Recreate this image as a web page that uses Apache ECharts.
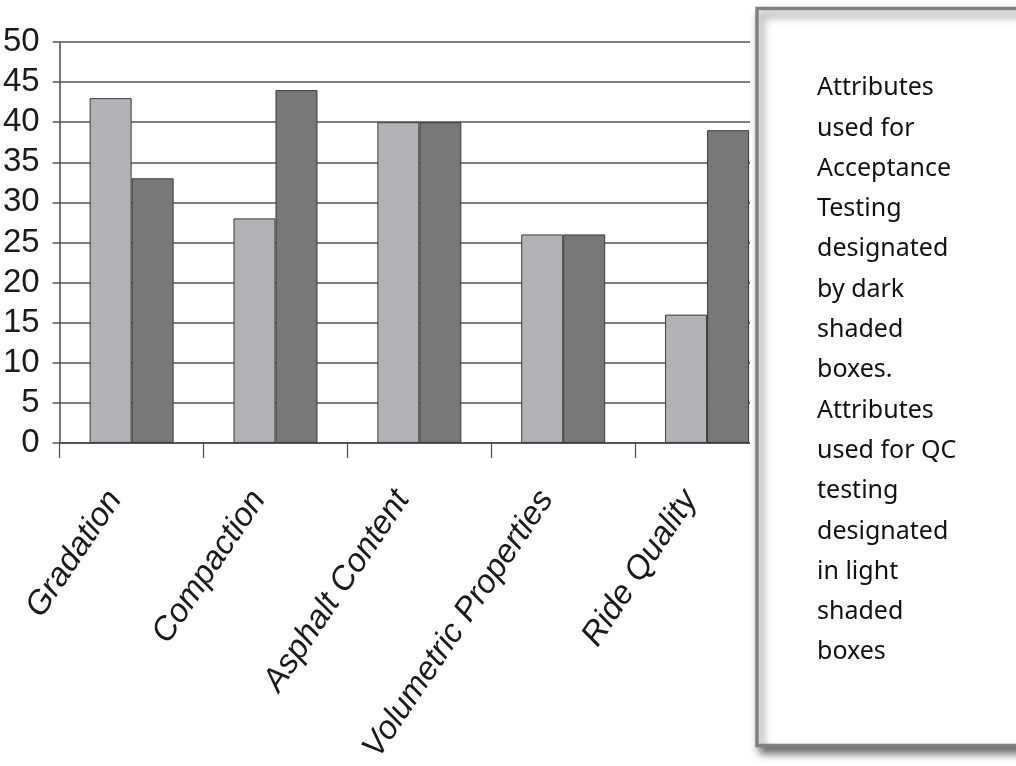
<!DOCTYPE html>
<html>
<head>
<meta charset="utf-8">
<style>
  html, body { margin: 0; padding: 0; background: #ffffff; }
  #chart { width: 1016px; height: 766px; }
</style>
<script src="https://cdn.jsdelivr.net/npm/echarts@6/dist/echarts.min.js"></script>
</head>
<body>
<div id="chart"></div>
<script>
// Quality attributes and how often each is used for QC and for acceptance testing
const categories = ['Gradation', 'Compaction', 'Asphalt Content', 'Volumetric Properties', 'Ride Quality'];
const qcValues = [43, 28, 40, 26, 16];          // light shaded boxes
const acceptanceValues = [33, 44, 40, 26, 39];  // dark shaded boxes
const yTicks = { min: 0, max: 50, interval: 5 };

const noteLines = [
  'Attributes', 'used for', 'Acceptance', 'Testing', 'designated', 'by dark',
  'shaded', 'boxes.', 'Attributes', 'used for QC', 'testing', 'designated',
  'in light', 'shaded', 'boxes'
];

const chart = echarts.init(document.getElementById('chart'), null, { renderer: 'canvas' });

const barBorder = { borderColor: '#3a3a3a', borderWidth: 1 };

chart.setOption({
  animation: false,
  backgroundColor: '#ffffff',
  grid: { left: 59, right: 237, top: 42, bottom: 322, containLabel: false },
  xAxis: {
    type: 'category',
    data: categories,
    boundaryGap: true,
    axisLine: { show: true, lineStyle: { color: '#4a4a4a', width: 1.5 } },
    axisTick: { show: true, length: 15, lineStyle: { color: '#4a4a4a', width: 1.2 } },
    axisLabel: {
      rotate: 56,
      margin: 26,
      interval: 0,
      padding: [0, 30, 0, 0],
      color: '#1a1a1a',
      fontFamily: "'Liberation Sans', Arial, sans-serif",
      fontStyle: 'italic',
      fontSize: 33
    }
  },
  yAxis: {
    type: 'value',
    min: yTicks.min,
    max: yTicks.max,
    interval: yTicks.interval,
    axisLine: { show: true, lineStyle: { color: '#4a4a4a', width: 1.5 } },
    axisTick: { show: true, inside: false, length: 7, lineStyle: { color: '#555555', width: 1.5 } },
    splitLine: { show: true, lineStyle: { color: '#555555', width: 1.5 } },
    axisLabel: {
      margin: 20,
      color: '#1a1a1a',
      fontFamily: "'Liberation Sans', Arial, sans-serif",
      fontSize: 33
    }
  },
  series: [
    {
      name: 'QC',
      type: 'bar',
      data: qcValues,
      barWidth: 42,
      barGap: '0%',
      itemStyle: Object.assign({ color: '#b1b2b5' }, barBorder)
    },
    {
      name: 'Acceptance',
      type: 'bar',
      data: acceptanceValues,
      barWidth: 42,
      barGap: '0%',
      itemStyle: Object.assign({ color: '#77787a' }, barBorder)
    }
  ],
  graphic: [
    // white margin between the plot and the note box
    {
      type: 'rect',
      z: 100,
      shape: { x: 750, y: 0, width: 300, height: 766 },
      style: { fill: '#ffffff' },
      silent: true
    },
    // note box with drop shadow
    {
      type: 'rect',
      z: 101,
      shape: { x: 757, y: 8.5, width: 300, height: 737 },
      style: {
        fill: '#ffffff',
        stroke: '#808080',
        lineWidth: 3.5,
        shadowBlur: 8,
        shadowOffsetX: 4,
        shadowOffsetY: 6,
        shadowColor: 'rgba(0,0,0,0.55)'
      },
      silent: true
    },
    {
      type: 'text',
      z: 102,
      left: 817,
      top: 68,
      style: {
        text: noteLines.join('\n'),
        fill: '#111111',
        fontFamily: "'Noto Sans', 'Open Sans', sans-serif",
        fontSize: 25,
        lineHeight: 40.3
      },
      silent: true
    }
  ]
});
</script>
</body>
</html>
